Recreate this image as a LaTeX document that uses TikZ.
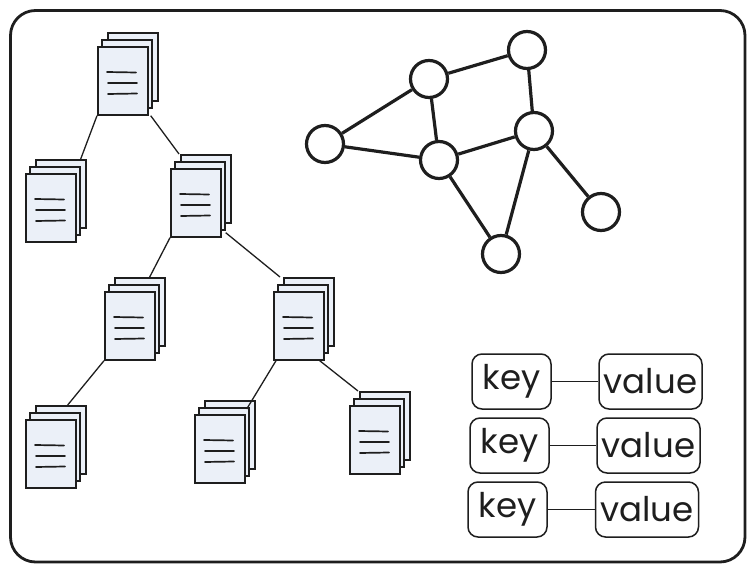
\documentclass[tikz,border=0pt]{standalone}
\usepackage{fontspec}
\setmainfont{Poppins}
\usetikzlibrary{calc}
\definecolor{ink}{HTML}{1E1E1E}
\definecolor{paper}{HTML}{EBF0F8}
\tikzset{
  page/.style={draw=ink,fill=paper,line width=1.7pt,minimum width=50pt,minimum height=68pt,inner sep=0pt,anchor=north west},
  textline/.style={draw=ink,line width=1.7pt,line cap=round},
  treeedge/.style={draw=ink,line width=1.3pt},
  vertex/.style={circle,draw=ink,fill=white,line width=3.2pt,minimum size=37pt,inner sep=0pt},
  graphedge/.style={draw=ink,line width=3.2pt},
  kvbox/.style={draw=ink,fill=white,rounded corners=10pt,line width=1.5pt,minimum height=55pt,inner sep=0pt,font=\fontsize{34}{36}\selectfont,text=ink},
  keybox/.style={kvbox,minimum width=79pt},
  valuebox/.style={kvbox,minimum width=103pt},
  kvedge/.style={draw=ink,line width=1.5pt}
}
\newcommand{\docicon}[3]{%
  \node[page] (#1b) at (#2+10,#3-14) {};
  \node[page] (#1m) at (#2+4,#3-7) {};
  \node[page] (#1) at (#2,#3) {};
  \draw[textline] (#2+10,#3+26) -- (#2+39,#3+26.5);
  \draw[textline] (#2+11,#3+37) -- (#2+40,#3+37);
  \draw[textline] (#2+11,#3+48) -- (#2+40,#3+47.5);
}
\begin{document}
\begin{tikzpicture}[x=1pt,y=-1pt]
\useasboundingbox (0,0) rectangle (753,572);
\draw[draw=ink,line width=2.8pt,rounded corners=25pt] (10.5,10.5) rectangle (745,562);
\docicon{da}{97}{46}
\docicon{db}{25}{173}
\docicon{dc}{170}{168}
\docicon{dd}{104}{291}
\docicon{de}{273}{291}
\docicon{df}{25}{419}
\docicon{dg}{194}{414}
\docicon{dh}{349}{405}
\draw[treeedge] (da.south west) -- ($(dbb.north east)+(-6,0)$);
\draw[treeedge] ($(da.south east)+(2,0)$) -- ($(dcb.north west)+(-1,0)$);
\draw[treeedge] (dc.south west) -- ($(ddb.north east)+(-16,0)$);
\draw[treeedge] ($(dc.south east)+(4,-5)$) -- ($(deb.north west)+(-3,0)$);
\draw[treeedge] (dd.south west) -- ($(dfb.north east)+(-19,0)$);
\draw[treeedge] ($(de.south west)+(3,0)$) -- ($(dgb.north east)+(-9,9)$);
\draw[treeedge] ($(de.south east)+(-5,0)$) -- ($(dhb.north west)+(-1,0)$);
\node[vertex] (v1) at (325,144) {};
\node[vertex] (v2) at (429,79) {};
\node[vertex] (v3) at (527,50) {};
\node[vertex] (v4) at (534,131) {};
\node[vertex] (v5) at (439,160) {};
\node[vertex] (v6) at (501,254) {};
\node[vertex] (v7) at (601,212) {};
\draw[graphedge] (v1) -- (v2);
\draw[graphedge] (v1) -- (v5);
\draw[graphedge] (v2) -- (v3);
\draw[graphedge] (v2) -- (v5);
\draw[graphedge] (v3) -- (v4);
\draw[graphedge] (v4) -- (v5);
\draw[graphedge] (v4) -- (v6);
\draw[graphedge] (v4) -- (v7);
\draw[graphedge] (v5) -- (v6);
\node[keybox] (k1) at (511.5,381.5) {key};
\node[valuebox] (w1) at (650.5,381.5) {value};
\node[keybox] (k2) at (509.5,445.5) {key};
\node[valuebox] (w2) at (648.5,445.5) {value};
\node[keybox] (k3) at (507.5,509.5) {key};
\node[valuebox] (w3) at (647,509.5) {value};
\draw[kvedge] (k1) -- (w1);
\draw[kvedge] (k2) -- (w2);
\draw[kvedge] (k3) -- (w3);
\end{tikzpicture}
\end{document}
